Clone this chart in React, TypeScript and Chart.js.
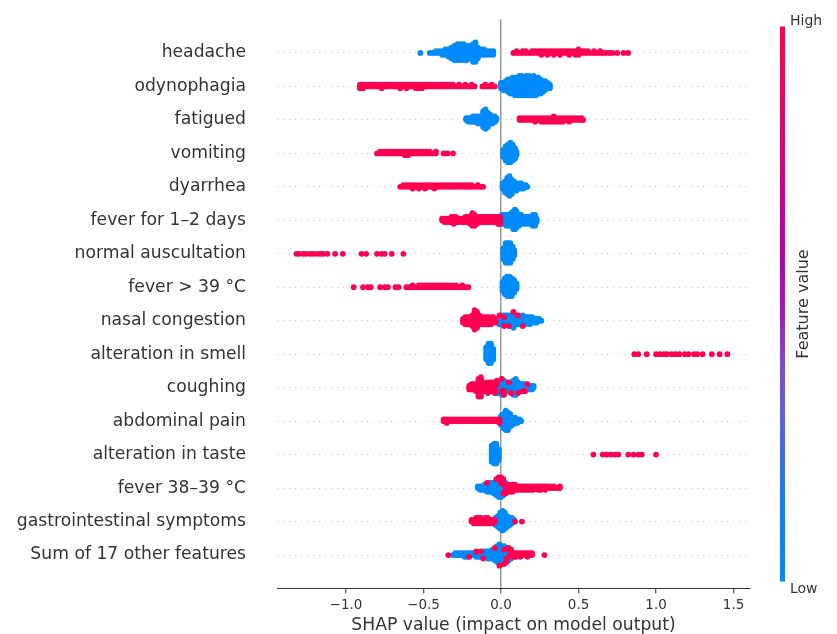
import React, { useEffect, useRef } from "react";
import { Chart, registerables } from "chart.js";

Chart.register(...registerables);

type Col = [number, number]; // [SHAP value, number of samples at that value]

const FEATURES = [
  "headache",
  "odynophagia",
  "fatigued",
  "vomiting",
  "dyarrhea",
  "fever for 1\u20132 days",
  "normal auscultation",
  "fever > 39 \u00b0C",
  "nasal congestion",
  "alteration in smell",
  "coughing",
  "abdominal pain",
  "alteration in taste",
  "fever 38\u201339 \u00b0C",
  "gastrointestinal symptoms",
  "Sum of 17 other features",
];

const X_TICKS = [-1.0, -0.5, 0.0, 0.5, 1.0, 1.5];

// ---- headache
const headacheLow: Col[] = [[-0.52,1],[-0.46,1],[-0.44,1],[-0.42,2],[-0.40,2],[-0.38,3],[-0.36,4],[-0.34,5],[-0.32,7],[-0.30,9],[-0.28,10],[-0.26,10],[-0.24,10],[-0.22,9],[-0.20,8],[-0.18,11],[-0.165,12],[-0.15,7],[-0.13,4],[-0.11,4],[-0.09,3],[-0.07,3],[-0.05,3]];
const headacheHigh: Col[] = [[0.08,1],[0.10,2],[0.12,1],[0.14,2],[0.16,2],[0.18,1],[0.20,2],[0.22,2],[0.24,2],[0.26,3],[0.28,2],[0.30,3],[0.32,2],[0.34,3],[0.36,2],[0.38,3],[0.40,2],[0.42,2],[0.44,3],[0.46,2],[0.48,3],[0.50,4],[0.52,2],[0.54,2],[0.56,2],[0.58,1],[0.60,2],[0.62,1],[0.64,2],[0.66,1],[0.68,1],[0.70,1],[0.72,1],[0.75,1],[0.79,1],[0.82,1]];
// ---- odynophagia
const odynophagiaLow: Col[] = [[0.00,4],[0.015,5],[0.03,6],[0.045,8],[0.06,9],[0.075,10],[0.09,11],[0.105,11],[0.12,12],[0.135,12],[0.15,11],[0.165,12],[0.18,12],[0.195,11],[0.21,12],[0.225,11],[0.24,10],[0.255,9],[0.27,7],[0.285,6],[0.30,4],[0.315,3]];
const odynophagiaHigh: Col[] = [[-0.91,3],[-0.89,3],[-0.87,2],[-0.85,2],[-0.83,2],[-0.81,2],[-0.79,2],[-0.77,3],[-0.75,2],[-0.73,2],[-0.71,2],[-0.69,2],[-0.67,2],[-0.65,3],[-0.63,2],[-0.61,3],[-0.59,2],[-0.57,2],[-0.55,3],[-0.53,3],[-0.51,3],[-0.49,2],[-0.47,2],[-0.45,2],[-0.43,2],[-0.41,2],[-0.39,2],[-0.37,2],[-0.35,2],[-0.33,2],[-0.31,2],[-0.29,1],[-0.27,2],[-0.25,1],[-0.23,2],[-0.21,1],[-0.19,2],[-0.17,1],[-0.12,1],[-0.10,2],[-0.08,1],[-0.06,2],[-0.04,1]];
// ---- fatigued
const fatiguedLow: Col[] = [[-0.225,2],[-0.21,3],[-0.195,3],[-0.18,4],[-0.165,4],[-0.15,5],[-0.135,5],[-0.115,10],[-0.10,12],[-0.085,9],[-0.07,6],[-0.055,5],[-0.04,4],[-0.03,2]];
const fatiguedHigh: Col[] = [[0.12,2],[0.14,2],[0.16,2],[0.18,2],[0.20,2],[0.22,3],[0.24,2],[0.26,3],[0.28,3],[0.30,3],[0.32,3],[0.34,4],[0.36,3],[0.38,3],[0.40,3],[0.42,2],[0.44,3],[0.46,2],[0.48,2],[0.50,2],[0.52,2],[0.53,1]];
// ---- vomiting
const vomitingLow: Col[] = [[0.015,5],[0.03,9],[0.045,11],[0.06,12],[0.075,10],[0.09,7],[0.10,3]];
const vomitingHigh: Col[] = [[-0.80,1],[-0.78,2],[-0.76,2],[-0.74,2],[-0.72,2],[-0.70,2],[-0.68,2],[-0.66,2],[-0.64,2],[-0.62,3],[-0.60,3],[-0.58,2],[-0.56,2],[-0.54,2],[-0.52,2],[-0.50,2],[-0.48,2],[-0.46,2],[-0.44,1],[-0.42,2],[-0.37,1],[-0.345,1],[-0.31,1]];
// ---- dyarrhea
const dyarrheaLow: Col[] = [[0.01,4],[0.025,7],[0.04,10],[0.055,12],[0.07,9],[0.085,6],[0.10,5],[0.115,4],[0.13,4],[0.145,3],[0.16,2],[0.17,1]];
const dyarrheaHigh: Col[] = [[-0.65,1],[-0.63,2],[-0.61,2],[-0.59,2],[-0.57,3],[-0.55,2],[-0.53,3],[-0.51,2],[-0.49,3],[-0.47,2],[-0.45,2],[-0.43,3],[-0.41,2],[-0.39,2],[-0.37,2],[-0.35,2],[-0.33,2],[-0.31,2],[-0.29,2],[-0.27,2],[-0.25,2],[-0.23,2],[-0.21,2],[-0.19,2],[-0.17,1],[-0.15,2],[-0.13,1],[-0.115,1]];
// ---- fever for 1-2 days
const fever12Low: Col[] = [[-0.01,5],[0.005,6],[0.02,6],[0.035,7],[0.05,7],[0.065,8],[0.08,11],[0.09,12],[0.10,10],[0.115,7],[0.13,6],[0.145,5],[0.16,5],[0.175,5],[0.19,5],[0.205,7],[0.22,7],[0.23,3]];
const fever12High: Col[] = [[-0.38,2],[-0.365,3],[-0.35,3],[-0.335,3],[-0.32,4],[-0.305,5],[-0.29,4],[-0.275,3],[-0.26,3],[-0.245,3],[-0.23,4],[-0.215,4],[-0.20,5],[-0.185,8],[-0.17,7],[-0.155,5],[-0.14,4],[-0.125,4],[-0.11,4],[-0.095,4],[-0.08,4],[-0.065,4],[-0.05,4],[-0.035,4],[-0.02,5],[-0.005,5]];
// ---- normal auscultation
const auscultationLow: Col[] = [[0.015,7],[0.03,12],[0.045,12],[0.06,12],[0.075,8],[0.085,4]];
const auscultationHigh: Col[] = [[-1.32,1],[-1.30,1],[-1.275,1],[-1.255,1],[-1.23,1],[-1.21,1],[-1.185,1],[-1.165,1],[-1.145,1],[-1.12,1],[-1.07,1],[-1.02,1],[-0.90,1],[-0.87,1],[-0.80,1],[-0.77,1],[-0.75,1],[-0.705,1],[-0.63,1]];
// ---- fever > 39
const fever39Low: Col[] = [[0.01,6],[0.025,10],[0.04,12],[0.055,12],[0.07,11],[0.085,8],[0.10,4]];
const fever39High: Col[] = [[-0.95,1],[-0.89,1],[-0.86,1],[-0.84,1],[-0.78,1],[-0.75,1],[-0.73,1],[-0.68,1],[-0.66,1],[-0.61,1],[-0.59,1],[-0.57,2],[-0.55,1],[-0.53,2],[-0.51,2],[-0.49,2],[-0.47,2],[-0.45,2],[-0.43,2],[-0.41,2],[-0.39,2],[-0.37,2],[-0.35,2],[-0.33,2],[-0.31,2],[-0.29,2],[-0.27,1],[-0.25,2],[-0.23,1],[-0.21,1]];
// ---- nasal congestion
const nasalLow: Col[] = [[-0.025,3],[-0.01,5],[0.005,6],[0.02,5],[0.035,6],[0.05,6],[0.065,7],[0.08,9],[0.095,6],[0.11,5],[0.125,5],[0.14,6],[0.155,5],[0.17,4],[0.185,5],[0.20,4],[0.215,3],[0.23,3],[0.245,2],[0.26,1]];
const nasalHigh: Col[] = [[-0.245,3],[-0.23,5],[-0.215,5],[-0.20,5],[-0.185,7],[-0.17,12],[-0.155,10],[-0.14,6],[-0.125,5],[-0.11,5],[-0.095,5],[-0.08,5],[-0.065,5],[-0.05,4],[-0.035,3],[-0.01,1],[0.02,2],[0.05,1],[0.08,1],[0.11,1],[0.14,1]];
// ---- alteration in smell
const smellLow: Col[] = [[-0.095,8],[-0.08,12],[-0.065,12],[-0.05,7]];
const smellHigh: Col[] = [[0.86,1],[0.885,1],[0.94,1],[1.00,1],[1.025,1],[1.05,1],[1.07,1],[1.10,1],[1.125,1],[1.15,1],[1.185,1],[1.21,1],[1.245,1],[1.265,1],[1.30,1],[1.36,1],[1.41,1],[1.46,1]];
// ---- coughing
const coughingLow: Col[] = [[-0.085,2],[-0.07,2],[-0.055,3],[-0.04,4],[-0.025,6],[-0.01,8],[0.005,8],[0.02,7],[0.035,5],[0.05,5],[0.065,6],[0.08,9],[0.095,10],[0.11,6],[0.125,5],[0.14,4],[0.155,4],[0.17,3],[0.185,3],[0.20,3],[0.21,2]];
const coughingHigh: Col[] = [[-0.205,3],[-0.19,4],[-0.175,4],[-0.16,5],[-0.145,11],[-0.13,12],[-0.115,6],[-0.10,5],[-0.085,5],[-0.07,4],[-0.055,3],[-0.04,3],[-0.025,2],[0.005,2],[0.02,2],[0.05,1],[0.065,1],[0.11,1],[0.14,1],[0.155,1],[0.17,1]];
// ---- abdominal pain
const abdominalLow: Col[] = [[0.0,6],[0.015,9],[0.03,12],[0.045,11],[0.06,8],[0.075,5],[0.09,4],[0.105,3],[0.12,2],[0.13,1]];
const abdominalHigh: Col[] = [[-0.37,2],[-0.35,3],[-0.33,2],[-0.31,2],[-0.29,2],[-0.27,2],[-0.25,2],[-0.23,2],[-0.21,2],[-0.19,2],[-0.17,2],[-0.15,2],[-0.13,2],[-0.11,2],[-0.09,2],[-0.07,2],[-0.05,2],[-0.03,2],[-0.01,3]];
// ---- alteration in taste
const tasteLow: Col[] = [[-0.06,10],[-0.045,12],[-0.03,12],[-0.015,7]];
const tasteHigh: Col[] = [[0.596,1],[0.656,1],[0.682,1],[0.708,1],[0.735,1],[0.757,1],[0.821,1],[0.854,1],[0.886,1],[0.908,1],[1.0,1]];
// ---- fever 38-39
const fever3839Low: Col[] = [[-0.15,2],[-0.135,3],[-0.12,3],[-0.105,4],[-0.09,5],[-0.075,6],[-0.06,6],[-0.045,7],[-0.03,9],[-0.015,11],[0.0,10],[0.015,7],[0.03,4]];
const fever3839High: Col[] = [[-0.09,1],[-0.03,1],[-0.015,1],[0.0,2],[0.015,3],[0.03,3],[0.045,5],[0.06,5],[0.075,5],[0.09,4],[0.105,3],[0.12,3],[0.135,3],[0.15,3],[0.165,3],[0.18,3],[0.195,3],[0.21,3],[0.225,2],[0.24,3],[0.255,3],[0.27,2],[0.285,3],[0.30,2],[0.32,2],[0.34,2],[0.36,1],[0.38,2]];
// ---- gastrointestinal symptoms
const gastroLow: Col[] = [[-0.05,3],[-0.035,5],[-0.02,7],[-0.005,10],[0.01,12],[0.025,10],[0.04,7],[0.055,5],[0.07,4],[0.085,2]];
const gastroHigh: Col[] = [[-0.19,2],[-0.175,3],[-0.16,4],[-0.145,4],[-0.13,4],[-0.115,3],[-0.10,4],[-0.085,4],[-0.07,3],[-0.055,3],[-0.04,2],[0.09,1],[0.135,1]];
// ---- sum of 17 other features
const otherLow: Col[] = [[-0.31,1],[-0.295,2],[-0.28,2],[-0.265,2],[-0.25,2],[-0.235,3],[-0.22,3],[-0.205,2],[-0.19,2],[-0.175,2],[-0.16,3],[-0.145,3],[-0.13,3],[-0.115,4],[-0.10,4],[-0.085,5],[-0.07,5],[-0.055,6],[-0.04,7],[-0.025,10],[-0.01,12],[0.005,11],[0.02,9],[0.035,7],[0.05,5],[0.065,3]];
const otherHigh: Col[] = [[-0.34,1],[-0.205,1],[-0.16,1],[-0.13,1],[-0.115,1],[-0.04,1],[-0.01,1],[0.02,2],[0.035,2],[0.05,3],[0.065,3],[0.08,3],[0.095,3],[0.11,2],[0.125,3],[0.14,2],[0.155,2],[0.17,3],[0.185,2],[0.20,2],[0.28,1]];

const LOW_BY_FEATURE: Col[][] = [headacheLow, odynophagiaLow, fatiguedLow, vomitingLow, dyarrheaLow, fever12Low, auscultationLow, fever39Low, nasalLow, smellLow, coughingLow, abdominalLow, tasteLow, fever3839Low, gastroLow, otherLow];
const HIGH_BY_FEATURE: Col[][] = [headacheHigh, odynophagiaHigh, fatiguedHigh, vomitingHigh, dyarrheaHigh, fever12High, auscultationHigh, fever39High, nasalHigh, smellHigh, coughingHigh, abdominalHigh, tasteHigh, fever3839High, gastroHigh, otherHigh];

const RED = "rgb(255,0,82)";
const BLUE = "rgb(0,139,251)";
const FONT = "'DejaVu Sans', sans-serif";

// beeswarm layout (like shap): stack samples sharing a value in alternating layers
function buildPoints() {
  const high: { x: number; y: number }[] = [];
  const low: { x: number; y: number }[] = [];
  const n = FEATURES.length;
  FEATURES.forEach((_, i) => {
    const pos = n - 1 - i;
    const map = new Map<string, { v: number; hi: number; lo: number }>();
    const get = (v: number) => {
      const k = v.toFixed(4);
      if (!map.has(k)) map.set(k, { v, hi: 0, lo: 0 });
      return map.get(k)!;
    };
    HIGH_BY_FEATURE[i].forEach(([v, c]) => (get(v).hi += c));
    LOW_BY_FEATURE[i].forEach(([v, c]) => (get(v).lo += c));
    const cols = Array.from(map.values());
    let maxK = 0;
    cols.forEach((c) => (maxK = Math.max(maxK, Math.ceil((c.hi + c.lo - 1) / 2))));
    const scale = 0.37 / (maxK + 1);
    cols.forEach((c) => {
      const total = c.hi + c.lo;
      for (let j = 0; j < total; j++) {
        const layer = Math.ceil(j / 2) * (j % 2 === 1 ? 1 : -1);
        const isHigh = Math.floor(((j + 1) * c.hi) / total) > Math.floor((j * c.hi) / total);
        const p = { x: c.v, y: pos + layer * scale };
        (isHigh ? high : low).push(p);
      }
    });
  });
  return { high, low };
}

const colorbarPlugin = {
  id: "colorbar",
  afterDraw(chart: any) {
    const { ctx, chartArea } = chart;
    const x = chartArea.right + 30;
    const w = 5;
    const top = chartArea.top + 7;
    const bottom = chartArea.bottom - 7;
    const g = ctx.createLinearGradient(0, bottom, 0, top);
    g.addColorStop(0, "rgb(0,139,251)");
    g.addColorStop(0.15, "rgb(20,122,245)");
    g.addColorStop(0.3, "rgb(100,95,220)");
    g.addColorStop(0.4, "rgb(135,70,200)");
    g.addColorStop(0.5, "rgb(165,20,180)");
    g.addColorStop(0.6, "rgb(185,0,160)");
    g.addColorStop(0.75, "rgb(215,0,130)");
    g.addColorStop(0.9, "rgb(240,0,100)");
    g.addColorStop(1, "rgb(255,0,82)");
    ctx.save();
    ctx.fillStyle = g;
    ctx.fillRect(x, top, w, bottom - top);
    ctx.fillStyle = "#333333";
    ctx.font = `14px ${FONT}`;
    ctx.textAlign = "left";
    ctx.textBaseline = "middle";
    ctx.fillText("High", x + w + 5, chartArea.top + 2);
    ctx.fillText("Low", x + w + 5, chartArea.bottom + 1);
    ctx.translate(x + w + 19, (chartArea.top + chartArea.bottom) / 2);
    ctx.rotate(-Math.PI / 2);
    ctx.textAlign = "center";
    ctx.font = `16px ${FONT}`;
    ctx.fillText("Feature value", 0, 0);
    ctx.restore();
  },
};

export default function App() {
  const ref = useRef<HTMLCanvasElement | null>(null);
  useEffect(() => {
    document.body.style.margin = "0";
    const canvas = ref.current;
    if (!canvas) return;
    const { high, low } = buildPoints();
    const chart = new Chart(canvas, {
      type: "scatter",
      data: {
        datasets: [
          { label: "High", data: high, backgroundColor: RED, pointRadius: 2.9, borderWidth: 0, pointHoverRadius: 2.9 },
          { label: "Low", data: low, backgroundColor: BLUE, pointRadius: 2.9, borderWidth: 0, pointHoverRadius: 2.9 },
        ],
      },
      options: {
        animation: false,
        responsive: false,
        events: [],
        layout: { padding: { top: 19.5, right: 87, left: 0, bottom: 0 } },
        plugins: { legend: { display: false }, tooltip: { enabled: false } },
        scales: {
          x: {
            type: "linear",
            min: -1.445,
            max: 1.606,
            afterBuildTicks: (s: any) => {
              s.ticks = X_TICKS.map((v) => ({ value: v }));
            },
            afterFit: (s: any) => {
              s.height = 45.5;
            },
            ticks: {
              callback: (v: any) => (Number(v) < 0 ? "\u2212" : "") + Math.abs(Number(v)).toFixed(1),
              font: { family: FONT, size: 13.5 },
              color: "#333333",
              padding: 3.5,
              maxRotation: 0,
            },
            grid: {
              drawOnChartArea: true,
              color: (c: any) => (c.tick && c.tick.value === 0 ? "#999999" : "rgba(0,0,0,0)"),
              lineWidth: 1.5,
              drawTicks: true,
              tickLength: 5,
              tickColor: "#333333",
              tickWidth: 1,
            },
            border: { display: true, color: "#333333", width: 1 },
            title: {
              display: true,
              text: "SHAP value (impact on model output)",
              font: { family: FONT, size: 17.2 },
              color: "#333333",
              padding: { top: 0, bottom: -2 },
            },
          },
          y: {
            type: "linear",
            min: -1,
            max: 16,
            afterBuildTicks: (s: any) => {
              s.ticks = FEATURES.map((_, i) => ({ value: FEATURES.length - 1 - i }));
            },
            afterFit: (s: any) => {
              s.width = 277;
            },
            ticks: {
              callback: (v: any) => FEATURES[FEATURES.length - 1 - Number(v)] ?? "",
              font: { family: FONT, size: 17.2 },
              color: "#333333",
              padding: 0,
              autoSkip: false,
            },
            grid: {
              color: "#cccccc",
              lineWidth: 1,
              drawTicks: true,
              tickLength: 31,
              tickColor: "rgba(0,0,0,0)",
            },
            border: { display: false, dash: [1.2, 4.8] },
          },
        },
      },
      plugins: [colorbarPlugin],
    } as any);
    return () => chart.destroy();
  }, []);
  return (
    <div style={{ width: 837, height: 634, background: "#fff" }}>
      <canvas ref={ref} width={837} height={634} style={{ display: "block" }} />
    </div>
  );
}
